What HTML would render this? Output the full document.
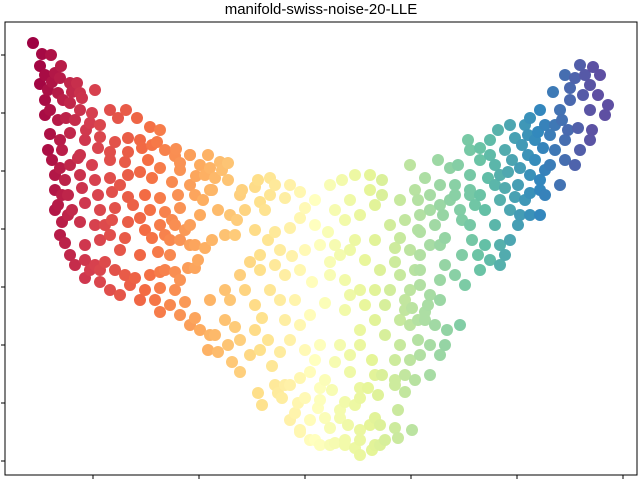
<!DOCTYPE html>
<html><head><meta charset="utf-8"><style>
html,body{margin:0;padding:0;background:#fff;}
svg{display:block;font-family:"Liberation Sans",sans-serif;}
</style></head><body>
<svg id="chart" width="640" height="480" viewBox="0 0 640 480">
<text x="321" y="14" text-anchor="middle" font-size="15" fill="#000">manifold-swiss-noise-20-LLE</text>
<g id="points"></g>
<rect x="5" y="22" width="632" height="453" fill="none" stroke="#000" stroke-width="1"/>
<g id="ticks"></g>
</svg>
<script>
const xTicks=[93,199,305,411,517,623];
const yTicks=[55,113,171,229,287,345,403,461];
const leftArm=[[33,43],[42,54],[51,55],[40,66],[61,66],[45,75],[55,73],[60,78],[70,83],[77,83],[80,93],[40,84],[48,90],[58,93],[72,92],[63,100],[95,90],[82,98],[45,100],[50,110],[70,103],[80,110],[92,113],[110,110],[126,110],[45,115],[58,120],[75,120],[90,123],[100,125],[118,118],[137,118],[150,127],[160,130],[50,134],[60,140],[70,133],[85,140],[100,137],[115,142],[128,138],[140,140],[48,150],[62,150],[80,155],[98,148],[110,152],[128,152],[142,148],[152,145],[165,150],[175,156],[190,155],[52,160],[60,168],[70,165],[78,158],[92,165],[110,160],[125,162],[148,160],[160,168],[180,170],[200,165],[55,175],[65,180],[80,175],[95,180],[110,178],[128,175],[140,172],[152,178],[172,182],[190,185],[205,175],[55,190],[68,195],[82,188],[98,195],[112,192],[128,197],[145,195],[160,198],[178,195],[195,195],[210,190],[58,205],[72,210],[85,203],[100,210],[115,208],[133,205],[150,210],[165,212],[180,208],[62,222],[68,215],[80,222],[95,225],[112,220],[128,222],[140,218],[160,225],[172,220],[190,225],[60,235],[65,243],[85,245],[100,240],[110,235],[125,238],[152,238],[165,235],[180,240],[195,245],[70,255],[85,260],[95,265],[105,262],[115,270],[125,275],[135,278],[150,275],[165,270],[180,280],[195,268],[85,278],[100,282],[110,290],[120,295],[130,285],[140,300],[155,300],[170,305],[185,302],[160,312],[180,315],[195,318],[200,330],[210,335],[190,325],[175,290],[145,290],[160,288],[100,270],[75,265],[90,270],[52,82],[66,118],[86,130],[55,210],[62,195],[120,250],[140,255],[120,185],[145,230],[170,255],[105,225]];
const middle=[[157,142],[176,149],[190,155],[208,155],[220,162],[228,163],[210,168],[215,178],[222,170],[228,180],[180,163],[196,176],[212,190],[203,200],[218,210],[200,215],[230,215],[237,220],[235,235],[225,235],[212,240],[205,248],[198,260],[188,268],[175,272],[160,272],[158,252],[170,240],[185,230],[190,245],[175,225],[245,210],[240,195],[242,190],[255,187],[258,180],[270,178],[265,210],[255,230],[268,240],[275,232],[260,255],[250,262],[240,275],[245,290],[255,305],[262,318],[255,330],[235,327],[225,320],[218,352],[208,350],[215,335],[228,345],[240,372],[260,350],[272,366],[285,385],[278,393],[300,378],[305,398],[295,413],[300,432],[315,440],[330,445],[345,445],[360,440],[375,445],[370,425],[355,405],[340,410],[325,418],[320,400],[310,372],[325,380],[335,362],[350,372],[340,345],[320,345],[305,350],[290,340],[285,320],[295,300],[310,315],[325,303],[345,310],[360,330],[375,320],[385,335],[372,360],[382,375],[395,380],[395,360],[400,345],[385,305],[375,290],[360,290],[345,280],[330,275],[312,282],[300,270],[285,275],[275,265],[292,256],[305,250],[320,245],[335,245],[350,250],[365,260],[380,270],[395,262],[400,275],[410,290],[420,285],[428,305],[440,300],[425,320],[418,340],[410,325],[400,320],[290,228],[300,218],[315,225],[328,232],[345,220],[360,215],[375,205],[382,195],[400,200],[418,200],[430,210],[440,205],[405,220],[420,232],[400,238],[390,225],[375,240],[355,240],[340,255],[330,262],[270,195],[285,198],[300,192],[315,200],[330,185],[342,180],[355,175],[370,175],[382,180],[370,190],[350,200],[335,210],[290,185],[275,185],[260,202],[305,208],[410,165],[425,178],[438,160],[450,168],[440,185],[455,195],[470,195],[415,190],[430,195],[415,270],[420,255],[430,245],[445,238],[410,250],[395,248],[230,300],[240,340],[250,355],[232,362],[225,290],[210,300],[268,340],[280,352],[300,325],[315,360],[350,355],[360,345],[270,290],[280,300],[350,295],[365,305],[390,290],[405,310],[280,250],[260,270]];
const bottom=[[258,393],[275,385],[290,385],[262,405],[282,398],[298,403],[290,420],[300,430],[310,440],[320,445],[335,443],[345,440],[355,448],[360,455],[372,450],[380,445],[385,440],[398,438],[380,425],[395,428],[412,430],[398,410],[375,418],[360,430],[340,418],[318,408],[345,402],[332,390],[360,388],[368,388],[378,395],[395,385],[405,392],[360,398],[320,388],[375,375],[310,420],[330,428],[348,425]];
const rightArm=[[580,65],[593,67],[600,75],[575,78],[590,85],[570,88],[583,95],[598,95],[608,105],[605,115],[590,110],[570,100],[560,110],[553,92],[565,75],[540,110],[555,125],[568,130],[578,128],[592,130],[545,125],[530,118],[525,125],[515,138],[522,145],[535,140],[543,148],[555,150],[565,140],[535,160],[550,165],[565,160],[575,165],[590,140],[580,150],[528,155],[512,160],[520,168],[530,175],[540,180],[545,170],[560,185],[545,195],[530,193],[518,185],[508,172],[495,165],[490,140],[468,140],[480,148],[495,185],[505,188],[515,197],[520,215],[530,215],[540,215],[518,225],[510,240],[500,245],[495,225],[485,210],[475,205],[480,195],[488,178],[470,190],[490,260],[500,265],[505,255],[470,175],[458,165],[455,185],[460,210],[462,220],[470,225],[472,240],[485,245],[480,270],[478,255],[462,255],[450,200],[443,215],[435,225],[420,215],[418,230],[440,245],[445,265],[455,275],[465,285],[440,280],[430,295],[425,312],[418,320],[435,325],[447,330],[460,325],[445,345],[430,345],[420,355],[410,360],[440,355],[430,375],[415,380],[405,375],[412,308],[405,300],[420,270],[470,150],[480,160],[505,150],[498,130],[510,125],[490,155],[585,75],[562,120],[550,135],[538,132],[528,135],[540,190],[525,200],[500,200],[510,210],[500,175]];

const X0=5,X1=637,Y0=22,Y1=475;
function sx(v){return X0+(v-5)/(637-5)*(X1-X0);}
function sy(v){return Y0+(v-22)/(475-22)*(Y1-Y0);}
const stops=["#9e0142","#d53e4f","#f46d43","#fdae61","#fee08b","#ffffbf","#e6f598","#abdda4","#66c2a5","#3288bd","#5e4fa2"];
function hex(h){return [1,3,5].map(i=>parseInt(h.substr(i,2),16));}
function cmap(t){t=Math.max(0,Math.min(1,t));const f=t*10,i=Math.min(9,Math.floor(f)),r=f-i;const a=hex(stops[i]),b=hex(stops[i+1]);return "rgb("+a.map((c,k)=>Math.round(c+(b[k]-c)*r)).join(",")+")";}
const NS="http://www.w3.org/2000/svg";
const g=document.getElementById("points");
const all=leftArm.concat(middle,bottom,rightArm);
all.sort((a,b)=>a[0]-b[0]);
all.forEach(p=>{
  const c=document.createElementNS(NS,"circle");
  c.setAttribute("cx",sx(p[0]));
  c.setAttribute("cy",sy(p[1]));
  c.setAttribute("r",6);
  c.setAttribute("fill",cmap((p[0]-35)/560));
  
  
  g.appendChild(c);
});
const tg=document.getElementById("ticks");
xTicks.forEach(v=>{
  const l=document.createElementNS(NS,"line");
  l.setAttribute("x1",sx(v));l.setAttribute("x2",sx(v));
  l.setAttribute("y1",Y1);l.setAttribute("y2",Y1+4);
  l.setAttribute("stroke","#000");
  
  
  tg.appendChild(l);
});
yTicks.forEach(v=>{
  const l=document.createElementNS(NS,"line");
  l.setAttribute("x1",X0-4);l.setAttribute("x2",X0);
  l.setAttribute("y1",sy(v));l.setAttribute("y2",sy(v));
  l.setAttribute("stroke","#000");
  
  
  tg.appendChild(l);
});
</script>
</body></html>
